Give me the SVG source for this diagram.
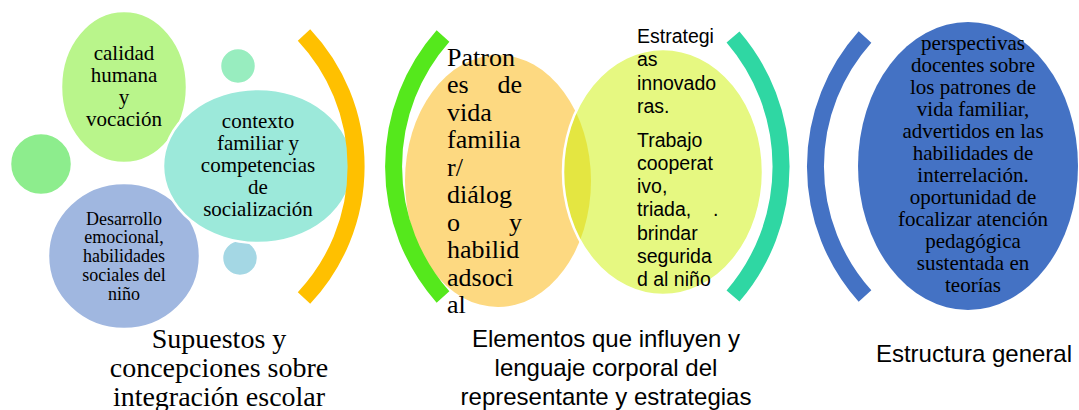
<svg xmlns="http://www.w3.org/2000/svg" width="1079" height="410" viewBox="0 0 1079 410">
<style>
.serif{font-family:"Liberation Serif","Times New Roman",serif;fill:#000}
.sans{font-family:"Liberation Sans",Arial,sans-serif;fill:#000}
.c{text-anchor:middle}
.arc{fill:none;stroke-width:17;stroke-linecap:butt}
.blob{stroke:#fff;stroke-width:2.5}
</style>
<defs>
<clipPath id="clipY"><ellipse cx="663" cy="172" rx="100" ry="123"/></clipPath>
</defs>
<rect width="1079" height="410" fill="#fff"/>

<g id="group-left">
<g id="node-calidad">
<ellipse class="blob" cx="124" cy="87" rx="63" ry="76" fill="#b9f58b"/>
<text class="serif c" font-size="21"><tspan x="124" y="60">calidad</tspan><tspan x="124" y="82">humana</tspan><tspan x="124" y="104">y</tspan><tspan x="124" y="126">vocación</tspan></text>
</g>
<g id="node-small-left"><circle class="blob" cx="41" cy="164" r="31" fill="#8ded8d"/></g>
<g id="node-small-top"><circle class="blob" cx="238" cy="66" r="18" fill="#98edbf"/></g>
<g id="node-small-bottom"><circle class="blob" cx="240" cy="258" r="18" fill="#a4d7e4"/></g>
<g id="node-desarrollo">
<ellipse class="blob" cx="124" cy="256" rx="76" ry="73" fill="#a0b7e0"/>
<text class="serif c" font-size="18"><tspan x="124" y="224.5">Desarrollo</tspan><tspan x="124" y="243.3">emocional,</tspan><tspan x="124" y="262.1">habilidades</tspan><tspan x="124" y="280.9">sociales del</tspan><tspan x="124" y="299.7">niño</tspan></text>
</g>
<g id="node-contexto">
<ellipse class="blob" cx="258" cy="166" rx="95" ry="77" fill="#9ce9da"/>
<text class="serif c" font-size="21"><tspan x="258" y="128">contexto</tspan><tspan x="258" y="150">familiar y</tspan><tspan x="258" y="172">competencias</tspan><tspan x="258" y="194">de</tspan><tspan x="258" y="216">socialización</tspan></text>
</g>
<g id="title-left">
<text class="serif c" font-size="28"><tspan x="219" y="348">Supuestos y</tspan><tspan x="219" y="377">concepciones sobre</tspan><tspan x="219" y="406">integración escolar</tspan></text>
</g>
</g>

<g id="group-middle">
<g id="node-patrones">
<ellipse cx="498" cy="181" rx="93" ry="126" fill="#fdd981"/>
</g>
<g id="node-estrategias">
<ellipse cx="663" cy="172" rx="100" ry="123" fill="#e6f881"/>
<ellipse cx="498" cy="181" rx="93" ry="126" fill="#e4e641" clip-path="url(#clipY)"/>
<ellipse cx="663" cy="172" rx="100" ry="123" fill="none" stroke="#fff" stroke-width="2.5"/>
</g>
<g id="text-patrones" class="serif" font-size="26">
<text x="447" y="65.5">Patron</text>
<text x="447" y="93">es</text><text x="522" y="93" text-anchor="end">de</text>
<text x="447" y="120.5">vida</text>
<text x="447" y="148">familia</text>
<text x="447" y="175.5">r/</text>
<text x="447" y="203">diálog</text>
<text x="447" y="230.5">o</text><text x="522" y="230.5" text-anchor="end">y</text>
<text x="447" y="258">habilid</text>
<text x="447" y="285.5">adsoci</text>
<text x="447" y="313">al</text>
</g>
<g id="text-estrategias" class="sans" font-size="19.5">
<text x="637" y="43">Estrategi</text>
<text x="637" y="66.3">as</text>
<text x="637" y="89.6">innovado</text>
<text x="637" y="113">ras.</text>
<text x="637" y="146.5">Trabajo</text>
<text x="637" y="169.8">cooperat</text>
<text x="637" y="193.1">ivo,</text>
<text x="637" y="216.4">triada,</text><text x="713" y="216.4">.</text>
<text x="637" y="239.7">brindar</text>
<text x="637" y="263">segurida</text>
<text x="637" y="286.3">d al niño</text>
</g>
<g id="title-middle">
<text class="sans c" font-size="24"><tspan x="606" y="347">Elementos que influyen y</tspan><tspan x="606" y="376">lenguaje corporal del</tspan><tspan x="606" y="405">representante y estrategias</tspan></text>
</g>
</g>

<g id="group-right">
<g id="node-perspectivas">
<ellipse cx="968" cy="166" rx="110" ry="144" fill="#4472c4"/>
<text class="serif c" font-size="21"><tspan x="973" y="50">perspectivas</tspan><tspan x="973" y="72">docentes sobre</tspan><tspan x="973" y="94">los patrones de</tspan><tspan x="973" y="116">vida familiar,</tspan><tspan x="973" y="138">advertidos en las</tspan><tspan x="973" y="160">habilidades de</tspan><tspan x="973" y="182">interrelación.</tspan><tspan x="973" y="204">oportunidad de</tspan><tspan x="973" y="226">focalizar atención</tspan><tspan x="973" y="248">pedagógica</tspan><tspan x="973" y="270">sustentada en</tspan><tspan x="973" y="292">teorías</tspan></text>
</g>
<g id="title-right">
<text class="sans c" x="974" y="362" font-size="24">Estructura general</text>
</g>
</g>

<g id="connectors">
<path class="arc" stroke="#ffc000" d="M304,35 A192,192 0 0,1 304,298"/>
<path class="arc" stroke="#55e81c" d="M443,36 A197,197 0 0,0 443,297"/>
<path class="arc" stroke="#2fd7a3" d="M733,37 A198.5,198.5 0 0,1 733,296"/>
<path class="arc" stroke="#4472c4" d="M865,37 A194,194 0 0,0 865,296"/>
</g>
</svg>
